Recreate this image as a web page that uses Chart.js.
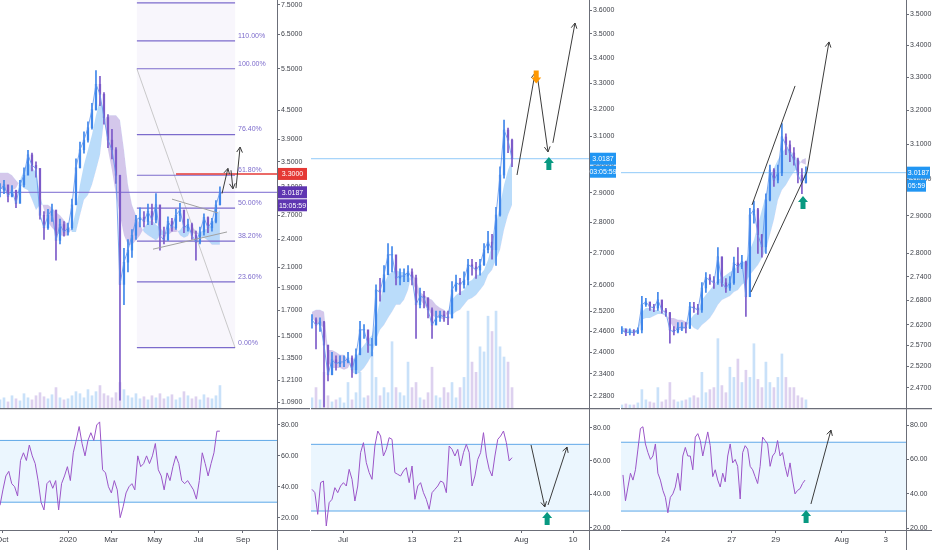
<!DOCTYPE html>
<html>
<head>
<meta charset="utf-8">
<script src="https://cdn.jsdelivr.net/npm/chart.js@4.4.1/dist/chart.umd.min.js"></script>
<style>
  html, body { margin: 0; padding: 0; background: #fff; }
  #wrap { position: relative; width: 932px; height: 550px; overflow: hidden; }
  canvas { position: absolute; }
</style>
</head>
<body>
<div id="wrap">
  <canvas id="m1" width="310" height="408" style="left:0;top:0"></canvas>
  <canvas id="r1" width="310" height="142" style="left:0;top:408px"></canvas>
  <canvas id="m2" width="309" height="408" style="left:311px;top:0"></canvas>
  <canvas id="r2" width="309" height="142" style="left:311px;top:408px"></canvas>
  <canvas id="m3" width="311" height="408" style="left:621px;top:0"></canvas>
  <canvas id="r3" width="311" height="142" style="left:621px;top:408px"></canvas>
</div>
<script>
/* ========================================
   Data  (x = days; left from 2020-01-01, middle/right from 2020-07-01)
   ======================================== */

// ---- left panel (daily, Oct 2019 - Jul 2020)
const leftStart = -95, leftStep = 5.58;
const leftClose = [3.05,3.13,2.96,3.05,2.86,3.13,3.28,3.62,3.44,3.39,
  2.70,2.54,2.70,2.77,2.39,2.58,2.49,2.54,2.84,3.40,
  3.71,3.89,4.13,4.51,5.10,4.86,4.34,3.89,3.71,3.28,
  1.93,2.15,2.28,2.45,2.64,2.67,2.62,2.75,2.64,2.84,
  2.45,2.39,2.62,2.54,2.70,2.77,2.54,2.58,2.45,2.37,
  2.49,2.67,2.54,2.62,2.84,3.0187];
const leftHigh = [3.15,3.20,3.10,3.12,3.00,3.20,3.40,3.70,3.65,3.50,
  3.20,2.75,2.78,2.85,2.70,2.65,2.62,2.60,2.92,3.55,
  3.85,4.05,4.25,4.65,5.45,5.30,4.90,4.40,4.10,3.75,
  3.20,2.30,2.40,2.52,2.70,2.80,2.75,2.85,2.85,3.00,
  2.80,2.55,2.68,2.66,2.78,2.86,2.75,2.65,2.60,2.50,
  2.55,2.72,2.68,2.66,2.90,3.10];
const leftLow = [2.95,3.00,2.88,2.95,2.80,2.90,3.10,3.30,3.35,3.25,
  2.65,2.40,2.52,2.62,2.17,2.35,2.44,2.45,2.52,2.85,
  3.40,3.65,3.85,4.10,4.50,4.60,4.20,3.75,3.55,3.15,
  1.10,1.75,2.05,2.20,2.40,2.55,2.55,2.58,2.58,2.60,
  2.28,2.35,2.40,2.50,2.52,2.62,2.48,2.50,2.40,2.17,
  2.35,2.45,2.48,2.50,2.60,2.84];
const leftSpanA = [3.08,3.05,3.02,3.05,3.08,3.20,3.36,3.50,3.40,3.33,
  2.98,2.77,2.61,2.54,2.49,2.45,2.44,2.45,2.54,2.77,
  3.13,3.45,3.71,3.99,4.39,4.73,4.50,3.71,3.36,2.98,
  2.70,2.45,2.34,2.34,2.39,2.45,2.54,2.61,2.64,2.58,
  2.54,2.49,2.45,2.49,2.49,2.51,2.58,2.54,2.49,2.45,
  2.49,2.51,2.54,2.58,2.70,2.77];
const leftSpanB = [3.32,3.32,3.32,3.28,3.20,3.13,3.08,3.05,2.91,2.77,
  2.84,2.84,2.84,2.80,2.74,2.70,2.64,2.58,2.49,2.49,
  2.70,2.91,2.98,3.13,3.36,3.62,4.29,4.39,4.39,4.39,
  4.29,3.71,3.13,2.84,2.70,2.58,2.49,2.45,2.42,2.39,
  2.44,2.46,2.51,2.58,2.54,2.45,2.42,2.44,2.54,2.51,
  2.44,2.42,2.39,2.34,2.34,2.34];
const leftVolume = [8,10,6,12,9,7,14,10,8,12,15,11,9,13,20,10,8,9,12,16,
  14,10,18,12,16,22,14,12,10,15,25,18,12,10,14,9,11,8,12,10,
  14,9,11,13,8,10,16,12,9,11,8,13,10,9,12,22];
const leftRsiStart = -95, leftRsiStep = 4.09;
const leftRsi = [28,38,47,50,42,40,34,57,62,57,67,60,55,44,30,25,42,44,39,44,
  25,42,47,53,44,62,70,79,68,60,70,75,70,80,82,51,49,40,36,44,
  38,20,27,36,40,42,38,60,53,55,60,55,60,68,51,47,38,49,44,53,
  60,55,44,42,44,41,38,32,44,62,55,47,55,62,76,76];
const leftTickDays = [-92, 0, 60, 121, 182, 244];
const leftTickLabels = ['Oct', '2020', 'Mar', 'May', 'Jul', 'Sep'];
const leftPriceTicks = [7.5, 6.5, 5.5, 4.5, 3.9, 3.5, 3.1, 2.7, 2.4, 2.1, 1.9, 1.7, 1.5, 1.35, 1.21, 1.09];
const leftLast = 3.0187, leftTarget = 3.3;
const fibLow = 1.42, fibHigh = 5.5, fibFrom = 96, fibTo = 233;
const fibLevels = [0, 0.236, 0.382, 0.5, 0.618, 0.764, 1, 1.1, 1.236];
const leftTriangle = [[[118.5, 2.29], [221.8, 2.49]], [[145, 2.92], [209.2, 2.73]]];
const leftArrows = [[[214.8, 3.00], [223, 3.39]], [[227.3, 3.36], [230, 3.07]], [[234.3, 3.08], [240, 3.76]]];

// ---- middle panel (hourly, Jun 26 - Jul 30)
const midStart = -5.39, midStep = 0.6957;
const midClose = [2.494,2.479,2.488,2.421,2.337,2.379,2.368,2.373,2.373,2.384,
  2.351,2.393,2.465,2.465,2.421,2.421,2.584,2.578,2.631,2.694,
  2.694,2.621,2.627,2.627,2.640,2.621,2.539,2.566,2.560,2.524,
  2.479,2.500,2.509,2.503,2.500,2.584,2.606,2.600,2.615,2.662,
  2.656,2.646,2.662,2.710,2.735,2.710,2.824,2.961,3.123,3.086,3.0187];
const midHigh = [2.51,2.50,2.50,2.49,2.39,2.40,2.39,2.39,2.39,2.40,
  2.39,2.41,2.49,2.48,2.46,2.44,2.60,2.62,2.66,2.73,
  2.72,2.66,2.65,2.65,2.66,2.65,2.63,2.59,2.58,2.56,
  2.53,2.52,2.52,2.52,2.52,2.61,2.63,2.62,2.64,2.68,
  2.68,2.67,2.68,2.73,2.77,2.76,2.85,2.99,3.16,3.13,3.09];
const midLow = [2.47,2.41,2.46,2.25,2.32,2.35,2.35,2.36,2.36,2.37,
  2.33,2.34,2.42,2.44,2.40,2.39,2.42,2.55,2.58,2.66,
  2.64,2.60,2.60,2.61,2.61,2.60,2.44,2.53,2.53,2.50,
  2.44,2.48,2.49,2.49,2.48,2.50,2.58,2.57,2.59,2.60,
  2.63,2.62,2.63,2.66,2.70,2.68,2.66,2.82,2.95,3.04,2.99];
const midSpanA = [2.500,2.488,2.479,2.471,2.373,2.356,2.356,2.356,2.351,2.356,
  2.379,2.384,2.407,2.421,2.436,2.450,2.494,2.554,2.600,2.631,
  2.640,2.646,2.640,2.640,2.631,2.609,2.584,2.554,2.539,2.524,
  2.509,2.500,2.500,2.494,2.518,2.554,2.569,2.578,2.584,2.609,
  2.615,2.631,2.631,2.646,2.678,2.726,2.791,2.858,2.926,2.979,3.014];
const midSpanB = [2.518,2.524,2.524,2.518,2.407,2.407,2.401,2.393,2.393,2.379,
  2.345,2.337,2.345,2.356,2.373,2.393,2.436,2.465,2.479,2.500,
  2.518,2.539,2.539,2.554,2.584,2.640,2.615,2.578,2.569,2.560,
  2.554,2.539,2.530,2.524,2.512,2.509,2.518,2.524,2.539,2.554,
  2.560,2.569,2.584,2.600,2.631,2.646,2.678,2.710,2.775,2.824,2.858];
const midVolume = [10,20,8,35,12,6,8,10,5,25,8,15,35,10,12,55,30,12,20,15,
  65,20,15,12,45,20,25,10,8,15,40,12,10,20,15,25,10,20,30,95,
  45,35,60,55,90,75,95,60,50,45,20];
const midRsiStart = -5.39, midRsiStep = 0.497;
const midRsi = [43,41,28,47,48,21,35,37,44,41,45,47,45,55,49,36,45,65,71,59,
  53,49,69,78,75,63,67,74,73,53,52,51,54,56,47,57,37,45,47,41,
  37,31,41,43,45,48,47,41,69,67,63,67,57,65,70,65,45,51,61,65,
  77,63,55,51,63,73,75,78,71,60,62];
const midTickDays = [0, 12, 20, 31, 40];
const midTickLabels = ['Jul', '13', '21', 'Aug', '10'];
const midPriceTicks = [3.6, 3.5, 3.4, 3.3, 3.2, 3.1, 3.0, 2.9, 2.8, 2.7, 2.6, 2.52, 2.46, 2.4, 2.34, 2.28];
const midArrows = [[[30.26, 2.961], [33.4, 3.341]], [[33.9, 3.313], [35.65, 3.043]], [[36.5, 3.076], [40.35, 3.545]]];
const midRsiArrows = [[[32.7, 69.6], [35.1, 32.4]], [[35.65, 33.6], [38.96, 68.4]]];
const midSell = [[33.6, 3.30]];
const midBuy = [[35.8, 3.025]];
const midRsiBuy = [[35.5, 29.4]];

// ---- right panel (15 min, Jul 22 - Jul 30)
const rightStart = 21.01, rightStep = 0.1818;
const rightClose = [2.607,2.600,2.602,2.600,2.607,2.669,2.676,2.664,2.661,2.681,
  2.656,2.649,2.607,2.602,2.612,2.614,2.612,2.664,2.661,2.656,
  2.711,2.737,2.731,2.724,2.791,2.724,2.711,2.724,2.775,2.765,
  2.778,2.689,2.902,2.916,2.849,2.817,2.943,3.026,2.998,3.018,
  3.121,3.098,3.075,3.055,3.012,2.990,3.0187];
const rightHigh = [2.615,2.610,2.610,2.608,2.612,2.690,2.685,2.675,2.670,2.700,
  2.675,2.660,2.650,2.615,2.625,2.625,2.625,2.675,2.675,2.670,
  2.725,2.750,2.745,2.740,2.815,2.790,2.735,2.740,2.790,2.815,
  2.795,2.780,2.920,2.940,2.920,2.850,2.960,3.040,3.030,3.040,
  3.160,3.130,3.110,3.090,3.060,3.030,3.035];
const rightLow = [2.598,2.593,2.595,2.594,2.598,2.600,2.665,2.655,2.652,2.655,
  2.648,2.640,2.575,2.595,2.600,2.605,2.600,2.610,2.650,2.645,
  2.650,2.700,2.720,2.710,2.720,2.715,2.700,2.705,2.720,2.750,
  2.760,2.640,2.690,2.880,2.800,2.790,2.800,2.940,2.980,2.990,
  3.010,3.070,3.050,3.040,2.990,2.960,2.990];
const rightSpanA = [2.612,2.612,2.607,2.607,2.607,2.651,2.661,2.661,2.656,2.656,
  2.651,2.646,2.627,2.612,2.607,2.607,2.612,2.632,2.644,2.651,
  2.681,2.694,2.706,2.719,2.731,2.737,2.744,2.752,2.757,2.770,
  2.778,2.778,2.809,2.835,2.875,2.916,2.957,2.998,3.032,3.055,
  3.077,3.089,3.083,3.069,3.055,3.046,3.041];
const rightSpanB = [2.602,2.602,2.600,2.600,2.600,2.632,2.636,2.636,2.641,2.646,
  2.646,2.641,2.636,2.636,2.632,2.632,2.627,2.622,2.612,2.607,
  2.619,2.627,2.636,2.651,2.669,2.681,2.686,2.691,2.701,2.706,
  2.719,2.726,2.744,2.757,2.770,2.788,2.809,2.849,2.889,2.943,
  2.970,2.984,3.004,3.021,3.032,3.055,3.060];
const rightVolume = [3,4,3,3,5,18,8,6,5,20,6,8,25,8,6,7,8,10,12,10,
  35,15,18,20,68,22,15,40,30,48,25,37,30,63,28,20,45,25,20,30,
  53,30,20,20,12,10,8];
const rightRsiStart = 21.06, rightRsiStep = 0.1133;
const rightRsi = [51,36,44,52,48,54,66,78,79,69,64,60,62,69,52,48,42,38,29,38,
  40,44,52,42,62,67,62,62,54,73,75,71,62,69,76,68,50,54,48,44,
  52,47,62,69,58,60,56,37,64,68,66,56,54,50,46,56,73,71,69,56,
  62,64,71,62,64,56,50,58,48,40,42,43,46,48];
const rightTickDays = [23, 26, 28, 31, 33];
const rightTickLabels = ['24', '27', '29', 'Aug', '3'];
const rightPriceTicks = [3.5, 3.4, 3.3, 3.2, 3.1, 3.0, 2.9, 2.8, 2.74, 2.68, 2.62, 2.57, 2.52, 2.47];
const rightChannel = [[[26.92, 2.929], [28.88, 3.273]], [[26.88, 2.701], [29.42, 3.021]]];
const rightArrows = [[[29.42, 3.021], [30.42, 3.41]]];
const rightRsiArrows = [[[29.6, 34.1], [30.51, 77.1]]];
const rightBuy = [[29.24, 2.954]];
const rightRsiBuy = [[29.38, 30.6]];

const rsiBands = [70, 30];
const rsiTicks = [20, 40, 60, 80];

/* ========================================
   Styles
   ======================================== */
const FONT = "'Liberation Sans Narrow','Liberation Sans',Arial,sans-serif";
const TEXT = '#3c3f47', AXIS = '#6b6e78';
const UP = '#3f86ea', DOWN = '#7d5bc9', CLOSE = '#5a92ec';
const VOL_UP = 'rgba(120,180,240,0.4)', VOL_DN = 'rgba(170,140,215,0.4)';
const CLOUD_UP = 'rgba(130,192,245,0.55)', CLOUD_DN = 'rgba(183,162,222,0.6)';
const FIB = '#7c6bcc', DRAW = '#3b3b3b';

Chart.defaults.animation = false;
Chart.defaults.elements.point.radius = 0;
Chart.defaults.font.family = FONT;

const pts = (start, step, vals) => vals.map((v, i) => ({x: start + i * step, y: v}));
const seg = (p) => p.map(([x, y]) => ({x, y}));

function candles(start, step, close, high, low, vol) {
  const open = close.map((c, i) => i ? close[i - 1] : c);
  const up = close.map((c, i) => c >= open[i]);
  const col = up.map(u => u ? UP : DOWN);
  return [
    {type: 'bar', yAxisID: 'yv', data: pts(start, step, vol), backgroundColor: up.map(u => u ? VOL_UP : VOL_DN),
      barThickness: 2, grouped: false, order: 10},
    {type: 'bar', data: close.map((c, i) => ({x: start + i * step, y: [low[i], high[i]]})),
      backgroundColor: col, barThickness: 1, grouped: false, order: 4},
    {type: 'bar', data: close.map((c, i) => ({x: start + i * step, y: [open[i], c]})),
      backgroundColor: col, barThickness: 1.6, grouped: false, order: 4},
    {type: 'line', data: pts(start, step, close), borderColor: CLOSE, borderWidth: 0.8, order: 3}
  ];
}

function cloud(start, step, a, b) {
  return [
    {type: 'line', data: pts(start, step, a), borderColor: 'transparent', borderWidth: 1,
      fill: {target: '+1', above: CLOUD_UP, below: CLOUD_DN}, order: 9},
    {type: 'line', data: pts(start, step, b), borderColor: 'transparent', borderWidth: 1, fill: false, order: 9}
  ];
}

function hline(v, from, to, color, width, extra) {
  return Object.assign({type: 'line', data: [{x: from, y: v}, {x: to, y: v}],
    borderColor: color, borderWidth: width, order: 6}, extra || {});
}

function lines(list, color, head) {
  return list.map(p => ({type: 'line', data: seg(p), borderColor: color, borderWidth: 1, arrowHead: head, order: 1}));
}

function rsiSets(start, step, vals, xMin, xMax) {
  return [
    hline(rsiBands[0], xMin, xMax, '#5fa8e8', 1, {fill: '+1', backgroundColor: 'rgba(33,150,243,0.09)', order: 8}),
    hline(rsiBands[1], xMin, xMax, '#5fa8e8', 1, {order: 8}),
    {type: 'line', data: pts(start, step, vals), borderColor: '#9b55c8', borderWidth: 1, order: 3}
  ];
}

/* ========================================
   Plugins
   ======================================== */
const marks = {
  id: 'marks',
  afterDatasetsDraw(chart) {
    const {ctx} = chart;
    chart.data.datasets.forEach((ds, i) => {
      const p = chart.getDatasetMeta(i).data;
      const b = p[p.length - 1];
      if (ds.endLabel) {
        ctx.save();
        ctx.fillStyle = ds.borderColor;
        ctx.font = '7px ' + FONT;
        ctx.textBaseline = 'middle';
        ctx.fillText(ds.endLabel, b.x + 3, b.y - 5);
        ctx.restore();
      }
      if (ds.arrowHead) {
        const a = p[p.length - 2];
        const ang = Math.atan2(b.y - a.y, b.x - a.x);
        ctx.save();
        ctx.strokeStyle = ds.borderColor;
        ctx.lineWidth = 1;
        ctx.beginPath();
        ctx.moveTo(b.x - 6 * Math.cos(ang - 0.5), b.y - 6 * Math.sin(ang - 0.5));
        ctx.lineTo(b.x, b.y);
        ctx.lineTo(b.x - 6 * Math.cos(ang + 0.5), b.y - 6 * Math.sin(ang + 0.5));
        ctx.stroke();
        ctx.restore();
      }
    });
  }
};

function blocks(list, color, dir) {
  return {
    id: 'blocks',
    afterDatasetsDraw(chart) {
      const {ctx, scales: {x, y}} = chart;
      const d = dir === 'up' ? 1 : -1;
      ctx.save();
      ctx.fillStyle = color;
      list.forEach(([dx, dy]) => {
        const px = x.getPixelForValue(dx), py = y.getPixelForValue(dy);
        ctx.beginPath();
        ctx.moveTo(px, py);
        ctx.lineTo(px + 5, py + 6 * d);
        ctx.lineTo(px + 2.5, py + 6 * d);
        ctx.lineTo(px + 2.5, py + 13 * d);
        ctx.lineTo(px - 2.5, py + 13 * d);
        ctx.lineTo(px - 2.5, py + 6 * d);
        ctx.lineTo(px - 5, py + 6 * d);
        ctx.closePath();
        ctx.fill();
      });
      ctx.restore();
    }
  };
}

function badges(list) {
  return {
    id: 'badges',
    afterDraw(chart) {
      const {ctx, chartArea: a, scales: {y}} = chart;
      ctx.save();
      ctx.font = '7px ' + FONT;
      ctx.textAlign = 'center';
      ctx.textBaseline = 'middle';
      list.forEach(b => {
        const py = y.getPixelForValue(b.value) + (b.below ? 13 : 0);
        ctx.fillStyle = b.color;
        ctx.fillRect(a.right + 1, py - 6, b.w, 12);
        ctx.fillStyle = '#fff';
        ctx.fillText(b.text, a.right + 1 + b.w / 2, py + 0.5);
      });
      ctx.restore();
    }
  };
}

const fibBg = {
  id: 'fibBg',
  beforeDatasetsDraw(chart) {
    const {ctx, chartArea: a, scales: {x, y}} = chart;
    const x0 = x.getPixelForValue(fibFrom), x1 = x.getPixelForValue(fibTo);
    ctx.save();
    ctx.fillStyle = 'rgba(126,87,194,0.05)';
    ctx.fillRect(x0, a.top, x1 - x0, y.getPixelForValue(fibLow) - a.top);
    ctx.restore();
  }
};

const frameMain = {
  id: 'frameMain',
  afterDraw(chart) {
    const {ctx, chartArea: a, height} = chart;
    ctx.save();
    ctx.strokeStyle = AXIS;
    ctx.beginPath();
    ctx.moveTo(a.right + 0.5, 0); ctx.lineTo(a.right + 0.5, height);
    ctx.stroke();
    ctx.restore();
  }
};

const frameRsi = {
  id: 'frameRsi',
  afterDraw(chart) {
    const {ctx, chartArea: a, width, height} = chart;
    ctx.save();
    ctx.strokeStyle = AXIS;
    ctx.lineWidth = 1.2;
    ctx.beginPath();
    ctx.moveTo(0, 0.6); ctx.lineTo(width, 0.6);
    ctx.moveTo(0, a.bottom + 0.5); ctx.lineTo(width, a.bottom + 0.5);
    ctx.stroke();
    ctx.lineWidth = 1;
    ctx.beginPath();
    ctx.moveTo(a.right + 0.5, 0); ctx.lineTo(a.right + 0.5, height);
    ctx.stroke();
    ctx.restore();
  }
};

/* ========================================
   Charts
   ======================================== */
const base = {
  responsive: false,
  events: [],
  layout: {padding: 0, autoPadding: false},
  plugins: {legend: {display: false}, tooltip: {enabled: false}}
};

// pin a scale's range after its ticks are built, so nothing rounds it
const pin = (min, max, ticks) => s => {
  if (ticks) s.ticks = ticks.map(v => ({value: v}));
  s.min = min; s.max = max;
};

function yAxis(type, min, max, ticks, width, digits) {
  return {
    type, position: 'right', min, max,
    afterBuildTicks: pin(min, max, ticks),
    afterFit: s => { s.width = width; s.paddingTop = 0; s.paddingBottom = 0; },
    grid: {drawOnChartArea: false, tickLength: 3, color: AXIS},
    border: {display: false},
    ticks: {autoSkip: false, padding: 1, color: TEXT, font: {size: 7}, callback: v => Number(v).toFixed(digits)}
  };
}

function mainChart(id, o) {
  return new Chart(document.getElementById(id), {
    type: 'line',
    data: {datasets: o.datasets},
    options: Object.assign({}, base, {
      scales: {
        x: {type: 'linear', display: false, offset: false, grid: {offset: false},
          min: o.xMin, max: o.xMax, afterBuildTicks: pin(o.xMin, o.xMax)},
        y: yAxis('logarithmic', o.yMin, o.yMax, o.ticks, o.axisW, 4),
        yv: {type: 'linear', display: false, min: 0, max: 400}
      }
    }),
    plugins: [frameMain, marks].concat(o.plugins)
  });
}

function rsiChart(id, o) {
  return new Chart(document.getElementById(id), {
    type: 'line',
    data: {datasets: o.datasets},
    options: Object.assign({}, base, {
      scales: {
        x: {
          type: 'linear', position: 'bottom', offset: false, min: o.xMin, max: o.xMax,
          afterBuildTicks: pin(o.xMin, o.xMax, o.xTicks),
          afterFit: s => { s.height = 20; s.paddingLeft = 0; s.paddingRight = 0; },
          grid: {drawOnChartArea: false, offset: false, tickLength: 3, color: AXIS},
          border: {display: false},
          ticks: {autoSkip: false, maxRotation: 0, padding: 2, color: TEXT, font: {size: 8},
            callback: (v, i) => o.xLabels[i]}
        },
        y: yAxis('linear', o.yMin, o.yMax, rsiTicks, o.axisW, 2)
      }
    }),
    plugins: [frameRsi, marks].concat(o.plugins || [])
  });
}

// ---- left
const L = {xMin: -95, xMax: 291.5};
const fibPrice = l => fibLow * Math.pow(fibHigh / fibLow, l);
mainChart('m1', {
  xMin: L.xMin, xMax: L.xMax, yMin: 1.059, yMax: 7.68, ticks: leftPriceTicks, axisW: 33,
  datasets: [
    ...cloud(leftStart, leftStep, leftSpanA, leftSpanB),
    ...fibLevels.map(l => hline(fibPrice(l), fibFrom, fibTo, FIB, 1.2,
      {endLabel: (l * 100).toFixed(2) + '%', order: 7})),
    {type: 'line', data: [{x: fibFrom, y: fibHigh}, {x: fibTo, y: fibLow}], borderColor: '#bdbdbd', borderWidth: 0.8, order: 7},
    hline(leftLast, L.xMin, L.xMax, '#7a68d0', 1),
    hline(leftTarget, 150.6, L.xMax, '#e53935', 1.5, {order: 2}),
    ...candles(leftStart, leftStep, leftClose, leftHigh, leftLow, leftVolume),
    ...lines(leftTriangle, '#a0a0a0', false),
    ...lines(leftArrows, DRAW, true)
  ],
  plugins: [fibBg, badges([
    {value: leftTarget, text: leftTarget.toFixed(4), color: '#e53935', w: 29},
    {value: leftLast, text: leftLast.toFixed(4), color: '#5e35b1', w: 29},
    {value: leftLast, text: '15:05:59', color: '#5e35b1', w: 29, below: true}
  ])]
});
rsiChart('r1', {
  xMin: L.xMin, xMax: L.xMax, yMin: 12, yMax: 91, axisW: 33,
  xTicks: leftTickDays, xLabels: leftTickLabels,
  datasets: rsiSets(leftRsiStart, leftRsiStep, leftRsi, L.xMin, L.xMax)
});

// ---- middle
const M = {xMin: -5.565, xMax: 42.78};
mainChart('m2', {
  xMin: M.xMin, xMax: M.xMax, yMin: 2.247, yMax: 3.643, ticks: midPriceTicks, axisW: 31,
  datasets: [
    ...cloud(midStart, midStep, midSpanA, midSpanB),
    hline(3.0187, M.xMin, M.xMax, '#90caf9', 1),
    ...candles(midStart, midStep, midClose, midHigh, midLow, midVolume),
    ...lines(midArrows, DRAW, true)
  ],
  plugins: [blocks(midSell, '#ff9800', 'down'), blocks(midBuy, '#089981', 'up'), badges([
    {value: 3.0187, text: '3.0187', color: '#2196f3', w: 26},
    {value: 3.0187, text: '03:05:59', color: '#2196f3', w: 26, below: true}
  ])]
});
rsiChart('r2', {
  xMin: M.xMin, xMax: M.xMax, yMin: 18.6, yMax: 91.8, axisW: 31,
  xTicks: midTickDays, xLabels: midTickLabels,
  datasets: [...rsiSets(midRsiStart, midRsiStep, midRsi, M.xMin, M.xMax), ...lines(midRsiArrows, DRAW, true)],
  plugins: [blocks(midRsiBuy, '#089981', 'up')]
});

// ---- right
const R = {xMin: 20.97, xMax: 33.92};
mainChart('m3', {
  xMin: R.xMin, xMax: R.xMax, yMin: 2.424, yMax: 3.546, ticks: rightPriceTicks, axisW: 26,
  datasets: [
    ...cloud(rightStart, rightStep, rightSpanA, rightSpanB),
    hline(3.0187, R.xMin, R.xMax, '#90caf9', 1),
    ...candles(rightStart, rightStep, rightClose, rightHigh, rightLow, rightVolume),
    ...lines(rightChannel, DRAW, false),
    ...lines(rightArrows, DRAW, true)
  ],
  plugins: [blocks(rightBuy, '#089981', 'up'), badges([
    {value: 3.0187, text: '3.0187', color: '#2196f3', w: 23},
    {value: 3.0187, text: '05:59', color: '#2196f3', w: 19, below: true}
  ])]
});
rsiChart('r3', {
  xMin: R.xMin, xMax: R.xMax, yMin: 19, yMax: 89.9, axisW: 26,
  xTicks: rightTickDays, xLabels: rightTickLabels,
  datasets: [...rsiSets(rightRsiStart, rightRsiStep, rightRsi, R.xMin, R.xMax), ...lines(rightRsiArrows, DRAW, true)],
  plugins: [blocks(rightRsiBuy, '#089981', 'up')]
});
</script>
</body>
</html>
